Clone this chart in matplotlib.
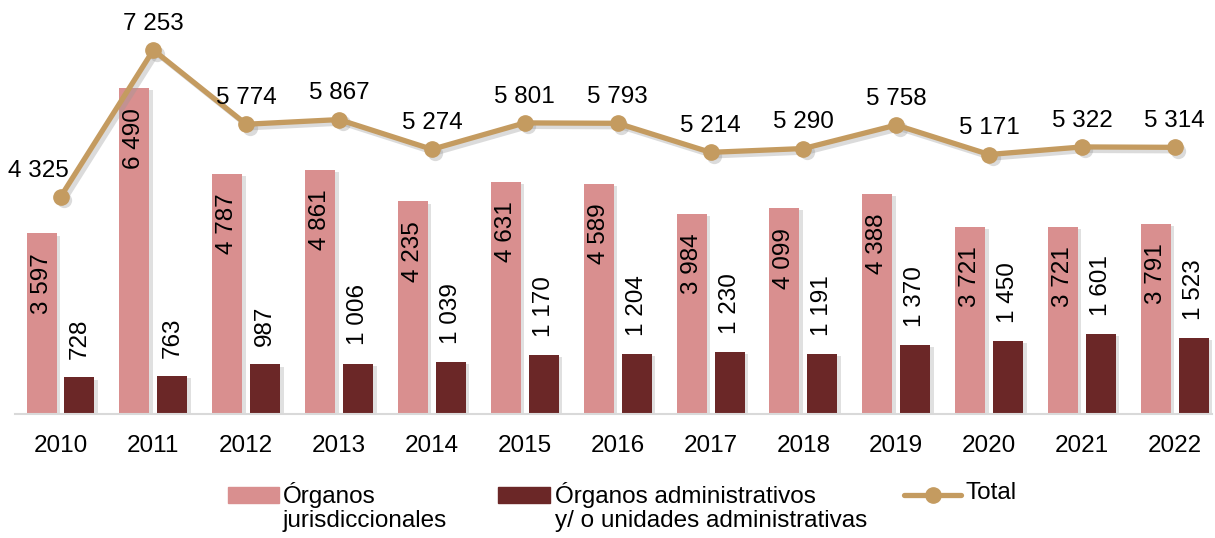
import numpy as np
import matplotlib
matplotlib.use("Agg")
import matplotlib.pyplot as plt
import matplotlib.patheffects as pe
from matplotlib.patches import Rectangle
from matplotlib.lines import Line2D
from matplotlib.transforms import ScaledTranslation

years = ["2010", "2011", "2012", "2013", "2014", "2015", "2016",
         "2017", "2018", "2019", "2020", "2021", "2022"]
jurisdiccionales = [3597, 6490, 4787, 4861, 4235, 4631, 4589,
                    3984, 4099, 4388, 3721, 3721, 3791]
administrativos = [728, 763, 987, 1006, 1039, 1170, 1204,
                   1230, 1191, 1370, 1450, 1601, 1523]
total = [4325, 7253, 5774, 5867, 5274, 5801, 5793,
         5214, 5290, 5758, 5171, 5322, 5314]

pink = "#d98f8f"
dark = "#6b2727"
tan = "#c49b60"

plt.rcParams['font.family'] = ['Liberation Sans', 'DejaVu Sans']
plt.rcParams['font.size'] = 17.5


def fmt(v):
    return "{:,}".format(v).replace(",", " ")


W, H = 1215, 538
fig = plt.figure(figsize=(W / 100, H / 100), dpi=100)
ax = fig.add_axes([15 / W, 124 / H, 1197 / W, 414 / H])

x = np.arange(len(years))
w = 0.323
off = 0.2045
shadow = [pe.SimplePatchShadow(offset=(2.5, -1.5), shadow_rgbFace="#999999", alpha=0.3), pe.Normal()]

b1 = ax.bar(x - off, jurisdiccionales, w, color=pink, zorder=2)
b2 = ax.bar(x + off, administrativos, w, color=dark, zorder=2)
for b in list(b1) + list(b2):
    b.set_path_effects(shadow)

# soft shadow under the total line
sh = ax.transData + ScaledTranslation(2.5 / 72, -2.5 / 72, fig.dpi_scale_trans)
ax.plot(x, total, color="#999999", alpha=0.35, lw=3.8, marker="o", ms=11, mew=0,
        transform=sh, zorder=2.5)
ax.plot(x, total, color=tan, lw=3.8, marker="o", ms=11, zorder=3)

for i in range(len(years)):
    ax.annotate(fmt(jurisdiccionales[i]), (x[i] - off, jurisdiccionales[i]), xytext=(0, -14),
                textcoords="offset points", rotation=90, ha="center", va="top", zorder=4)
    ax.annotate(fmt(administrativos[i]), (x[i] + off, administrativos[i]), xytext=(0, 13),
                textcoords="offset points", rotation=90, ha="center", va="bottom", zorder=4)
    dx = -16 if i == 0 else 0
    ax.annotate(fmt(total[i]), (x[i], total[i]), xytext=(dx, 11),
                textcoords="offset points", ha="center", va="bottom", zorder=4)

ax.set_xlim(-0.49, 12.4)
ax.set_ylim(0, 8250)
ax.set_xticks(x)
ax.set_xticklabels(years)
ax.tick_params(axis="x", length=0, pad=15)
ax.set_yticks([])
for s in ["top", "right", "left"]:
    ax.spines[s].set_visible(False)
ax.spines["bottom"].set_color("#d9d9d9")
ax.spines["bottom"].set_linewidth(1.5)

# legend, handles aligned with the first line of each label
ly = 1 - 495 / H
fig.add_artist(Rectangle((228 / W, ly - 8 / H), 51 / W, 16 / H, color=pink, transform=fig.transFigure))
fig.add_artist(Rectangle((498 / W, ly - 8 / H), 52 / W, 16 / H, color=dark, transform=fig.transFigure))
fig.add_artist(Line2D([904 / W, 961 / W], [ly, ly], color=tan, lw=3.8, solid_capstyle="round",
                      transform=fig.transFigure))
fig.add_artist(Line2D([932.5 / W], [ly], color=tan, marker="o", ms=11, transform=fig.transFigure))
ty = 1 - 482 / H
fig.text(283 / W, ty, "Órganos\njurisdiccionales", va="top", ha="left", linespacing=1.1)
fig.text(555 / W, ty, "Órganos administrativos\ny/ o unidades administrativas", va="top", ha="left",
         linespacing=1.1)
fig.text(965 / W, ty, "Total", va="top", ha="left")

fig.savefig("out.png", dpi=100)
